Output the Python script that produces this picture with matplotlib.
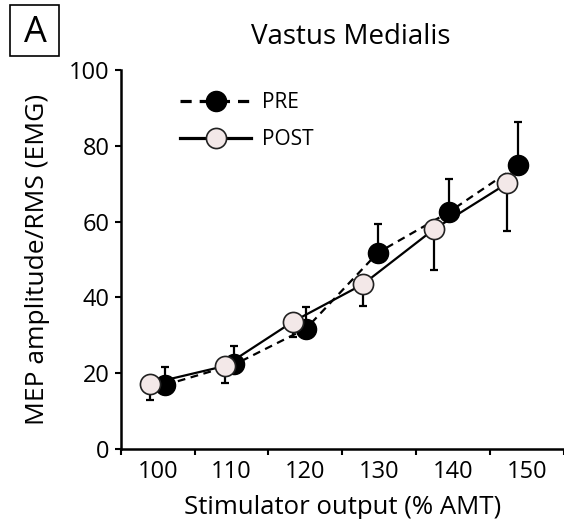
import matplotlib.pyplot as plt
from matplotlib.patches import Rectangle

plt.rcParams['font.family'] = ['Open Sans', 'DejaVu Sans']

# stimulator levels (% AMT) used for the tick labels
levels = [100, 110, 120, 130, 140, 150]

# x positions of the markers as drawn (the two groups are offset)
pre_x = [101.0, 110.4, 120.1, 129.8, 139.4, 148.8]
post_x = [98.9, 109.1, 118.3, 127.8, 137.4, 147.3]

# MEP amplitude / RMS
pre_y = [16.9, 22.3, 31.8, 51.8, 62.5, 74.9]
pre_err = [4.7, 4.9, 5.7, 7.6, 8.7, 11.5]      # upper bars only
post_y = [17.2, 21.9, 33.6, 43.5, 58.0, 70.1]
post_err = [4.3, 4.4, 4.0, 5.8, 10.8, 12.6]    # lower bars only

fig = plt.figure(figsize=(5.64, 5.19), dpi=100)
ax = fig.add_axes([0.214, 0.1349, 0.786, 0.730])

#PRE: dashed line, filled black circles, error up
ax.errorbar(pre_x, pre_y, yerr=[[0]*len(pre_err), pre_err], fmt='none',
            ecolor='black', elinewidth=1.6, capsize=3, capthick=1.6, zorder=2)
ax.plot(pre_x, pre_y, linestyle=(0, (3.5, 2.5)), color='black', lw=1.6,
        marker='o', markersize=14.5, markerfacecolor='black', markeredgecolor='black',
        label='PRE', zorder=3)

#POST: solid line, pale circles, error down
ax.errorbar(post_x, post_y, yerr=[post_err, [0]*len(post_err)], fmt='none',
            ecolor='black', elinewidth=1.6, capsize=3, capthick=1.6, zorder=2)
ax.plot(post_x, post_y, linestyle='-', color='black', lw=1.6,
        marker='o', markersize=14.5, markerfacecolor='#f3e8e8', markeredgecolor='#222222',
        markeredgewidth=1.2, label='POST', zorder=4)

ax.set_xlim(95, 155)
ax.set_ylim(0, 100)

# ticks at the category boundaries, labels centred between them
ax.set_xticks([95, 105, 115, 125, 135, 145, 155])
ax.set_xticklabels([])
ax.set_xticks(levels, minor=True)
ax.set_xticklabels([str(v) for v in levels], minor=True, fontsize=17)
ax.tick_params(axis='x', which='major', direction='out', length=4, width=1.5)
ax.tick_params(axis='x', which='minor', length=0, pad=8)

ax.set_yticks([0, 20, 40, 60, 80, 100])
ax.tick_params(axis='y', direction='out', length=4, width=1.5, labelsize=17, pad=4)

for s in ['top', 'right']:
    ax.spines[s].set_visible(False)
for s in ['left', 'bottom']:
    ax.spines[s].set_linewidth(1.8)

ax.set_xlabel('Stimulator output (% AMT)', fontsize=18.5, labelpad=8)
ax.set_ylabel('MEP amplitude/RMS (EMG)', fontsize=19, labelpad=14)

fig.text(0.622, 0.929, 'Vastus Medialis', fontsize=20, ha='center', va='center')

# panel letter in a box
fig.text(0.062, 0.937, 'A', fontsize=26, ha='center', va='center')
fig.add_artist(Rectangle((0.018, 0.892), 0.087, 0.098, transform=fig.transFigure,
                         fill=False, edgecolor='black', lw=1.2))

leg = ax.legend(loc='upper left', bbox_to_anchor=(0.305, 0.838), bbox_transform=fig.transFigure,
                frameon=False, fontsize=15, handlelength=3.4, handletextpad=0.5,
                labelspacing=0.75, borderaxespad=0)
for ln in leg.get_lines():
    ln.set_linewidth(2.3)

fig.savefig('out.png', dpi=100)
